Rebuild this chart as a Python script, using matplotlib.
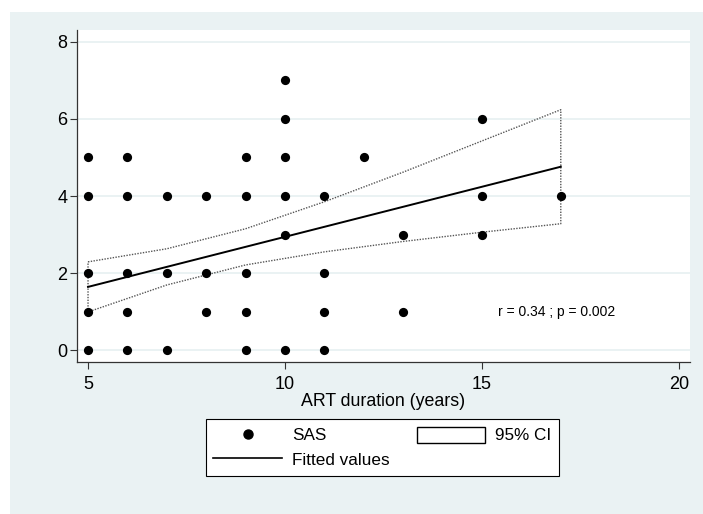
import matplotlib.pyplot as plt
from matplotlib.patches import Rectangle, Patch
from matplotlib.lines import Line2D

plt.rcParams['font.family'] = ['Liberation Sans', 'DejaVu Sans']

# Data: ART duration (years) vs SAS score
art_years = [5, 5, 5, 5, 5,
             6, 6, 6, 6, 6,
             7, 7, 7,
             8, 8, 8,
             9, 9, 9, 9, 9,
             10, 10, 10, 10, 10, 10,
             11, 11, 11, 11,
             12,
             13, 13,
             15, 15, 15,
             17]
sas = [0, 1, 2, 4, 5,
       0, 1, 2, 4, 5,
       0, 2, 4,
       1, 2, 4,
       0, 1, 2, 4, 5,
       0, 3, 4, 5, 6, 7,
       0, 1, 2, 4,
       5,
       1, 3,
       3, 4, 6,
       4]

# Fitted line and 95% CI
fit_x = [5, 17]
fit_y = [1.64, 4.76]
ci_x = [5, 7, 9, 11, 13, 15, 17]
ci_upper = [2.29, 2.63, 3.15, 3.85, 4.62, 5.43, 6.24]
ci_lower = [0.99, 1.69, 2.21, 2.55, 2.82, 3.06, 3.28]

xticks = [5, 10, 15, 20]
yticks = [0, 2, 4, 6, 8]

bg = '#EAF2F3'
fig = plt.figure(figsize=(7.03, 5.14), dpi=100)
fig.patches.append(Rectangle((10 / 703, 0), 1, 1 - 12 / 514, transform=fig.transFigure,
                             facecolor=bg, edgecolor='none', zorder=-10))

ax = fig.add_axes([77 / 703, 1 - 362 / 514, (690 - 77) / 703, (362 - 30) / 514])
ax.set_facecolor('white')

# grid
for y in yticks:
    ax.axhline(y, color=bg, linewidth=1.4, zorder=0)

# CI outline (closed, no fill)
poly_x = ci_x + ci_x[::-1] + [ci_x[0]]
poly_y = ci_upper + ci_lower[::-1] + [ci_upper[0]]
ax.plot(poly_x, poly_y, color='#555555', linestyle=(0, (1, 1)), linewidth=1.0, zorder=2)

ax.plot(fit_x, fit_y, color='black', linewidth=1.4, zorder=3)
ax.scatter(art_years, sas, s=44, color='black', zorder=4, linewidths=0)

ax.text(15.4, 1.0, 'r = 0.34 ; p = 0.002', fontsize=10, ha='left', va='center')

ax.set_xlim(4.72, 20.28)
ax.set_ylim(-0.31, 8.31)
ax.set_xticks(xticks)
ax.set_yticks(yticks)
ax.tick_params(direction='out', length=5, width=0.8, color='#333333', labelsize=13)
ax.tick_params(axis='x', pad=5)
ax.tick_params(axis='y', pad=2)
for s in ['top', 'right']:
    ax.spines[s].set_visible(False)
for s in ['left', 'bottom']:
    ax.spines[s].set_color('#333333')
    ax.spines[s].set_linewidth(0.9)
ax.set_xlabel('ART duration (years)', fontsize=12.8, labelpad=0)

handles = [
    Line2D([], [], marker='o', color='black', linestyle='none', markersize=6.5),
    Line2D([], [], color='black', linewidth=1.2),
    Patch(facecolor='white', edgecolor='black', linewidth=1.0),
]
labels = ['SAS', 'Fitted values', '95% CI']
leg = fig.legend(handles, labels, ncol=2, loc='upper center',
                 bbox_to_anchor=(382.5 / 703, 1 - 419 / 514), fontsize=12.3,
                 frameon=True, fancybox=False, edgecolor='black', framealpha=1,
                 handlelength=4.0, handleheight=1.05, columnspacing=1.6,
                 labelspacing=0.45, borderpad=0.45, handletextpad=0.6,
                 borderaxespad=0)
leg.get_frame().set_linewidth(0.8)

fig.savefig('out.png', dpi=100)
